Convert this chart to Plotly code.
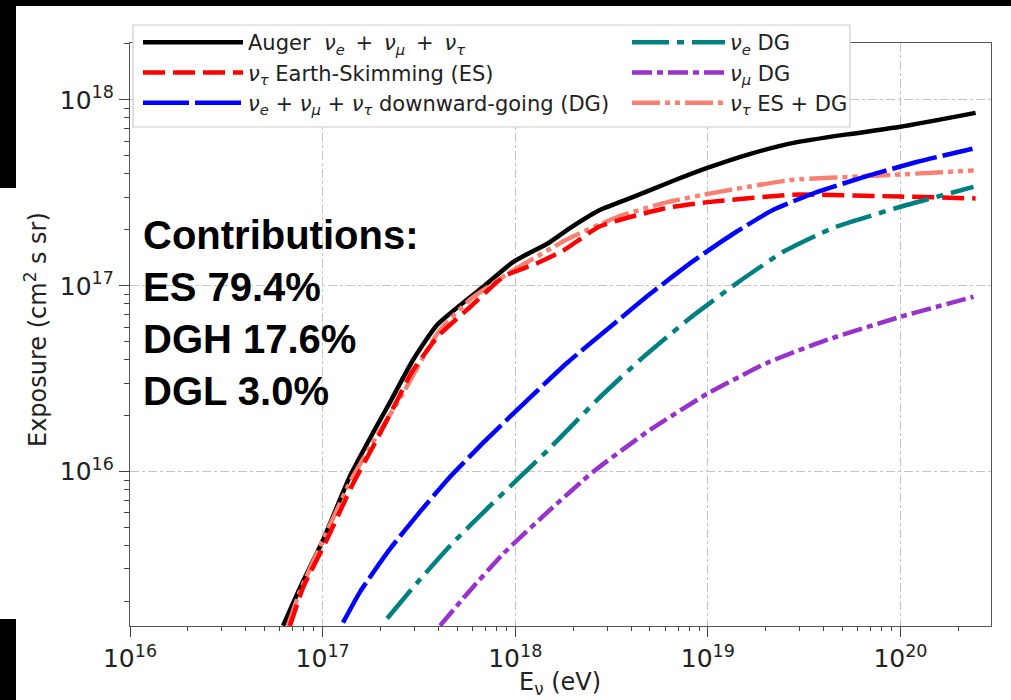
import numpy as np
import plotly.graph_objects as go

# ---- data (log10 of energy in eV, log10 of exposure in cm^2 s sr) ----
auger_logE = [16.795, 16.883, 17.003, 17.143, 17.262, 17.351, 17.470, 17.595, 17.834, 17.990,
              18.166, 18.286, 18.442, 18.613, 18.821, 18.997, 19.221, 19.444, 19.740, 20.000, 20.390]
auger_logX = [15.172, 15.376, 15.634, 15.978, 16.210, 16.376, 16.602, 16.790, 16.995, 17.129,
              17.226, 17.312, 17.409, 17.478, 17.565, 17.634, 17.710, 17.769, 17.817, 17.855, 17.930]

es_logE = [16.83, 16.90, 17.02, 17.16, 17.28, 17.39, 17.46, 17.60, 17.77, 17.94, 18.11,
           18.25, 18.44, 18.79, 19.00, 19.44, 20.00, 20.39]
es_logX = [15.17, 15.38, 15.63, 15.94, 16.17, 16.39, 16.53, 16.73, 16.89, 17.05, 17.12,
           17.19, 17.32, 17.42, 17.45, 17.49, 17.48, 17.47]

dg_logE = [17.106, 17.195, 17.351, 17.506, 17.662, 17.834, 18.010, 18.270, 18.494, 18.701,
           18.925, 19.132, 19.340, 19.569, 19.829, 20.088, 20.374]
dg_logX = [15.188, 15.355, 15.586, 15.785, 15.973, 16.156, 16.333, 16.586, 16.780, 16.957,
           17.134, 17.280, 17.409, 17.505, 17.591, 17.667, 17.737]

nue_logE = [17.335, 17.491, 17.662, 17.870, 18.010, 18.182, 18.426, 18.649, 18.909, 19.153,
            19.392, 19.652, 20.000, 20.379]
nue_logX = [15.210, 15.403, 15.602, 15.817, 15.957, 16.129, 16.387, 16.602, 16.828, 17.016,
            17.183, 17.312, 17.425, 17.532]

numu_logE = [17.610, 17.751, 17.938, 18.182, 18.405, 18.701, 18.997, 19.309, 19.621, 20.000, 20.379]
numu_logX = [15.172, 15.344, 15.559, 15.796, 16.000, 16.226, 16.419, 16.586, 16.710, 16.833, 16.941]

esdg_logE = [16.82, 16.88, 17.01, 17.15, 17.28, 17.40, 17.60, 17.77, 17.97, 18.27, 18.53,
             18.79, 19.03, 19.44, 19.83, 20.38]
esdg_logX = [15.17, 15.35, 15.65, 15.96, 16.19, 16.39, 16.75, 16.93, 17.07, 17.25, 17.37,
             17.45, 17.50, 17.57, 17.59, 17.62]

x_tick_exp = [16, 17, 18, 19, 20]
y_tick_exp = [16, 17, 18]

sp = "\u2009"
series = [
    # name, logE, logX, colour, dash, legend, rank
    ("Auger  <i>ν<sub>e</sub></i>" + sp + " +" + sp + " <i>ν<sub>μ</sub></i>" + sp + " +" + sp
     + " <i>ν<sub>τ</sub></i>", auger_logE, auger_logX, "#000000", "solid", "legend", 1),
    ("<i>ν<sub>τ</sub></i> ES + DG", esdg_logE, esdg_logX, "#FA8072",
     "28px,5px,5px,5px,5px,5px", "legend2", 3),
    ("<i>ν<sub>τ</sub></i> Earth-Skimming (ES)", es_logE, es_logX, "#FF0000",
     "22px,8px", "legend", 2),
    ("<i>ν<sub>e</sub></i> + <i>ν<sub>μ</sub></i> + <i>ν<sub>τ</sub></i> downward-going (DG)",
     dg_logE, dg_logX, "#0000FF", "46px,6px", "legend", 3),
    ("<i>ν<sub>e</sub></i> DG", nue_logE, nue_logX, "#008080",
     "37px,8px,7px,8px", "legend2", 1),
    ("<i>ν<sub>μ</sub></i> DG", numu_logE, numu_logX, "#9932CC",
     "20px,5px,6px,5px", "legend2", 2),
]

fig = go.Figure()
for i, (name, lx, ly, col, dash, leg, rank) in enumerate(series):
    fig.add_trace(go.Scatter(
        x=10 ** np.array(lx), y=10 ** np.array(ly), mode="lines", name=name,
        line=dict(color=col, width=4.5, dash=dash, shape="spline", smoothing=0.5),
        legend=leg, legendrank=rank, legendgroup="g%d" % i,
    ))

# plot-area geometry in pixels (for paper-coordinate conversions of decorations)
W, H = 1011, 700
L, R, T, B = 130, 991, 43, 626
def px(xp):
    return (xp - L) / (R - L)
def py(yp):
    return (B - yp) / (B - T)

xr = [16, 20.47]
yr = [15.17, 18.306]
minor_x = [m * 10.0 ** e for e in range(16, 21) for m in range(2, 10)]
minor_y = [m * 10.0 ** e for e in range(15, 19) for m in range(2, 10)]
tick_font = dict(family="DejaVu Sans", size=25, color="#222222")

axis_common = dict(
    type="log", showline=True, linecolor="#555555", linewidth=1.2, mirror=True,
    ticks="outside", ticklen=10, tickwidth=1.2, tickcolor="#444444",
    showgrid=True, gridcolor="#c4c4c4", gridwidth=1, griddash="dashdot",
    zeroline=False, tickfont=tick_font,
)

fig.update_layout(
    width=W, height=H,
    margin=dict(l=L, r=W - R, t=T, b=H - B),
    paper_bgcolor="white", plot_bgcolor="white",
    font=dict(family="DejaVu Sans", color="#222222"),
    xaxis=dict(
        **axis_common, range=xr,
        tickmode="array", tickvals=[10.0 ** e for e in x_tick_exp],
        ticktext=["10<sup>%d</sup>" % e for e in x_tick_exp],
        minor=dict(tickmode="array", tickvals=minor_x, ticks="outside", ticklen=4,
                   tickcolor="#444444", showgrid=False),
    ),
    yaxis=dict(
        **axis_common, range=yr,
        tickmode="array", tickvals=[10.0 ** e for e in y_tick_exp],
        ticktext=["10<sup>%d</sup>" % e for e in y_tick_exp],
        minor=dict(tickmode="array", tickvals=minor_y, ticks="outside", ticklen=5,
                   tickcolor="#444444", showgrid=False),
    ),
    # mirrored major ticks only (top / right)
    xaxis2=dict(type="log", range=xr, overlaying="x", side="top", anchor="y",
                tickmode="array", tickvals=[10.0 ** e for e in x_tick_exp],
                ticks="outside", ticklen=10, tickwidth=1.2, tickcolor="#444444",
                showticklabels=False, showgrid=False, showline=False, zeroline=False),
    yaxis2=dict(type="log", range=yr, overlaying="y", side="right", anchor="x",
                tickmode="array", tickvals=[10.0 ** e for e in y_tick_exp],
                ticks="outside", ticklen=10, tickwidth=1.2, tickcolor="#444444",
                showticklabels=False, showgrid=False, showline=False, zeroline=False),
    legend=dict(x=px(138), y=py(22), xanchor="left", yanchor="top",
                bgcolor="rgba(0,0,0,0)", borderwidth=0, itemwidth=100,
                tracegroupgap=0, font=dict(family="DejaVu Sans", size=21, color="#222222")),
    legend2=dict(x=px(627), y=py(22), xanchor="left", yanchor="top",
                 bgcolor="rgba(0,0,0,0)", borderwidth=0, itemwidth=93,
                 tracegroupgap=0, font=dict(family="DejaVu Sans", size=21, color="#222222")),
    showlegend=True,
)

shapes = [
    # legend frame
    dict(type="rect", xref="paper", yref="paper", x0=px(133), x1=px(850), y0=py(127), y1=py(25),
         fillcolor="white", line=dict(color="#cccccc", width=1.2), layer="above"),
    # black borders of the original picture
    dict(type="rect", xref="paper", yref="paper", x0=px(0), x1=px(W), y0=py(6), y1=py(0),
         fillcolor="black", line=dict(width=0), layer="above"),
    dict(type="rect", xref="paper", yref="paper", x0=px(0), x1=px(16), y0=py(188), y1=py(0),
         fillcolor="black", line=dict(width=0), layer="above"),
    dict(type="rect", xref="paper", yref="paper", x0=px(0), x1=px(16), y0=py(H), y1=py(619),
         fillcolor="black", line=dict(width=0), layer="above"),
]
fig.update_layout(shapes=shapes)

# axis titles
fig.add_annotation(
    xref="paper", yref="paper", x=px(560), y=py(683), xanchor="center", yanchor="middle",
    showarrow=False, text="E<sub>ν</sub> (eV)",
    font=dict(family="DejaVu Sans", size=24, color="#222222"),
)
fig.add_annotation(
    xref="paper", yref="paper", x=px(36), y=py(330), xanchor="center", yanchor="middle",
    showarrow=False, textangle=-90, text="Exposure (cm<sup>2</sup> s sr)",
    font=dict(family="DejaVu Sans", size=24, color="#222222"),
)

fig.add_annotation(
    xref="paper", yref="paper", x=px(141), y=py(211), xanchor="left", yanchor="top",
    align="left", showarrow=False,
    text="Contributions:<br>ES 79.4%<br>DGH 17.6%<br>DGL 3.0%",
    font=dict(family="Liberation Sans, Arial", size=40, color="black", weight="bold"),
)

fig.write_html("out.html")
